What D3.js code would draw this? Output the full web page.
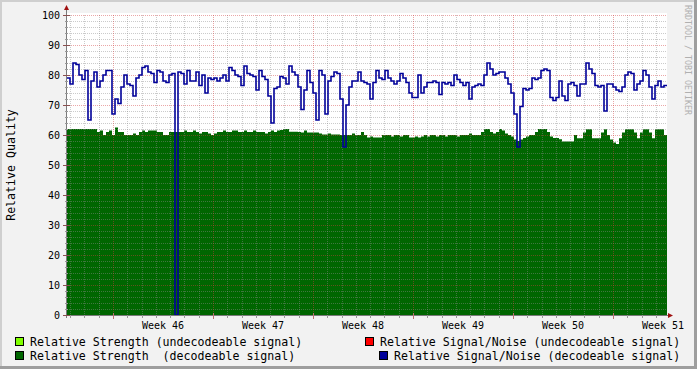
<!DOCTYPE html>
<html><head><meta charset="utf-8">
<script src="https://cdn.jsdelivr.net/npm/d3@7"></script>
<style>html,body{margin:0;padding:0;background:#f2f2f2;overflow:hidden} svg{display:block;}</style>
</head><body><svg id="c" width="697" height="369"></svg>
<script>
// ---------- data ----------
const startTime = new Date(2008, 10, 6, 18, 43, 12);   // left edge of graph
const stepSeconds = 18144;                              // sample interval
const weekLabels = ["Week 46", "Week 47", "Week 48", "Week 49", "Week 50", "Week 51"];
const yTicks = [0, 10, 20, 30, 40, 50, 60, 70, 80, 90, 100];

// Relative Signal/Noise (decodeable signal)
const snrValues = [
  79, 77, 84, 83.5, 80, 78.5, 81.5, 65, 78, 81,
  76, 78, 80, 81.5, 81.5, 67, 72, 70.5, 76, 80,
  77, 76.5, 73, 79, 80, 82.5, 83, 81, 80.5, 77.5,
  81.5, 81, 78, 77.5, 80, 80.5, 0, 81, 80.5, 77,
  81.5, 78, 78, 81, 76.5, 80, 74, 79, 78.5, 79,
  78, 79, 80, 78, 82.5, 81.5, 80, 79.5, 76.5, 83,
  80.5, 80, 79.5, 75, 81.5, 79.5, 78.5, 73, 64, 75.5,
  76, 79.5, 79, 77, 83, 81, 80, 76, 68.5, 75,
  81.5, 77.5, 74, 65, 81.5, 80, 67, 78, 79.5, 81,
  80.5, 72, 56, 70, 76, 78, 78, 81, 78, 77.5,
  77, 72, 77.5, 81.5, 79, 78.5, 81.5, 79, 78, 77,
  78, 80.5, 79, 77.5, 74, 72.5, 72.5, 80, 74, 76,
  77.5, 77.5, 78, 77.5, 73.5, 77.5, 77, 77.5, 76.5, 80,
  78.5, 77.5, 76.5, 77.5, 72, 76, 76.5, 77, 76.5, 80,
  84, 82, 80, 80.5, 81, 81, 79, 77, 74, 67,
  56, 69.5, 75.5, 75, 75.5, 79, 78.5, 79, 81.5, 82,
  81.5, 72.5, 71.5, 72.5, 78, 73, 71.5, 77, 77.5, 76.5,
  73, 77, 77, 84, 82, 80.5, 76.5, 76, 76.5, 68,
  77, 77, 76, 75, 74.5, 76, 80, 81, 80.5, 75,
  77, 78, 81.5, 80, 76, 72, 76.5, 78, 76, 76.5
];

// Relative Strength (decodeable signal)
const strengthValues = [
  62, 62, 62, 62, 62, 62, 62, 62, 62, 62,
  61, 61.5, 60, 61, 61.5, 60, 62.5, 61, 61, 60,
  60, 60, 60.5, 60, 61, 61.5, 61, 61.5, 61.5, 61.5,
  61, 61, 60, 60, 61, 61, 61, 61, 61, 61.5,
  61, 61, 61.5, 61, 60.5, 61, 61, 60.5, 60, 60.5,
  61, 61, 61.5, 61, 61, 61.5, 61.5, 61, 61, 61.5,
  61, 61, 61.5, 61, 61, 61, 60.5, 61, 61.5, 61,
  61.5, 61.7, 62, 62, 61.1, 61.1, 61.1, 61, 60.8, 61.5,
  60.8, 60.8, 60.8, 60.8, 60.5, 60.2, 60.2, 60.5, 60.2, 60.2,
  60.2, 60, 60, 60, 60, 60.5, 60, 60, 61, 60,
  59.2, 59.5, 59.2, 59.2, 59.2, 60, 60, 60, 59.5, 60,
  60, 59.5, 60, 60, 59.2, 59.2, 59.5, 59.2, 59.5, 60,
  59.5, 60, 60, 59.5, 60, 60, 59.5, 60, 60, 60,
  59.5, 60, 60, 60, 60.5, 60, 60, 60, 61, 62,
  62, 61, 60.5, 61, 62, 61.5, 60.5, 60, 59.5, 58.5,
  58, 58.5, 59, 59.5, 60, 60, 61, 62, 62, 62,
  61, 59.5, 59, 59, 58.6, 57.8, 57.8, 57.8, 57.8, 60,
  58.9, 58.9, 60.8, 61.9, 61.9, 58.9, 58.9, 58.9, 60.8, 61.9,
  60, 58.5, 57.5, 57, 58.9, 60.8, 61.9, 61.9, 61.9, 60.8,
  58.9, 60.8, 61.9, 61.9, 60.8, 58.9, 61.9, 61.9, 61.9, 60
];

const legendLabels = [
  "Relative Strength (undecodeable signal)",
  "Relative Signal/Noise (undecodeable signal)",
  "Relative Strength  (decodeable signal)",
  "Relative Signal/Noise (decodeable signal)"
];
const legendColors = ["#80ff00", "#ff0000", "#006600", "#000099"];

// ---------- drawing ----------
const W = 697, H = 369;
const L = 67, R = 667, T = 15, B = 315;
const mono = "'DejaVu Sans Mono', monospace";
const svg = d3.select("#c");

svg.append("rect").attr("width", W).attr("height", H).attr("fill", "#f2f2f2");
// frame shading
svg.append("rect").attr("x", 0).attr("y", 0).attr("width", W).attr("height", 2).attr("fill", "#cfcfcf");
svg.append("rect").attr("x", 0).attr("y", 0).attr("width", 2).attr("height", H).attr("fill", "#cfcfcf");
svg.append("rect").attr("x", 0).attr("y", H - 3).attr("width", W).attr("height", 3).attr("fill", "#9e9e9e");
svg.append("rect").attr("x", W - 3).attr("y", 0).attr("width", 3).attr("height", H).attr("fill", "#9e9e9e");

const endTime = new Date(startTime.getTime() + snrValues.length * stepSeconds * 1000);
const x = d3.scaleTime().domain([startTime, endTime]).range([L, R]);
const y = d3.scaleLinear().domain([0, 100]).range([B, T]);
const tAt = i => new Date(startTime.getTime() + i * stepSeconds * 1000);

// canvas
svg.append("rect").attr("x", L).attr("y", T - 2).attr("width", R - L).attr("height", B - T + 2).attr("fill", "#ffffff");

// strength area
const gData = strengthValues.map((v, i) => ({ t: tAt(i), v }));
gData.push({ t: endTime, v: strengthValues[strengthValues.length - 1] });
svg.append("path").datum(gData)
  .attr("d", d3.area().x(d => x(d.t)).y0(y(0)).y1(d => y(d.v)).curve(d3.curveStepAfter))
  .attr("fill", "#006600");

// grid
const grid = svg.append("g").attr("shape-rendering", "crispEdges");
const minorY = d3.range(0, 101, 2).filter(v => v % 10 !== 0);
grid.selectAll(".my").data(minorY).enter().append("line")
  .attr("x1", L).attr("x2", R).attr("y1", d => Math.round(y(d)) + 0.5).attr("y2", d => Math.round(y(d)) + 0.5)
  .attr("stroke", "rgba(140,140,140,0.45)").attr("stroke-dasharray", "1,1");
const days = d3.timeDay.range(startTime, endTime).filter(d => d.getDay() !== 1);
grid.selectAll(".mx").data(days).enter().append("line")
  .attr("y1", T).attr("y2", B).attr("x1", d => Math.round(x(d)) + 0.5).attr("x2", d => Math.round(x(d)) + 0.5)
  .attr("stroke", "rgba(140,140,140,0.45)").attr("stroke-dasharray", "1,1");
grid.selectAll(".My").data(yTicks.filter(v => v > 0)).enter().append("line")
  .attr("x1", L).attr("x2", R).attr("y1", d => Math.round(y(d)) + 0.5).attr("y2", d => Math.round(y(d)) + 0.5)
  .attr("stroke", "rgba(210,60,60,0.45)").attr("stroke-dasharray", "1,1");
const mondays = d3.timeMonday.range(startTime, endTime);
grid.selectAll(".Mx").data(mondays).enter().append("line")
  .attr("y1", T).attr("y2", B).attr("x1", d => Math.round(x(d)) + 0.5).attr("x2", d => Math.round(x(d)) + 0.5)
  .attr("stroke", "rgba(210,60,60,0.45)").attr("stroke-dasharray", "1,1");

// SNR line
const bData = snrValues.map((v, i) => ({ t: tAt(i), v }));
bData.push({ t: endTime, v: snrValues[snrValues.length - 1] });
svg.append("path").datum(bData)
  .attr("d", d3.line().x(d => x(d.t)).y(d => y(d.v)).curve(d3.curveStepAfter))
  .attr("fill", "none").attr("stroke", "#000099").attr("stroke-width", 1.6);

// axes
const ax = svg.append("g").attr("shape-rendering", "crispEdges");
ax.append("line").attr("x1", L - 0.5).attr("x2", L - 0.5).attr("y1", B + 3).attr("y2", T - 6).attr("stroke", "#7a7a7a");
ax.append("line").attr("x1", L - 3).attr("x2", R + 3).attr("y1", B + 0.5).attr("y2", B + 0.5).attr("stroke", "#7a7a7a");
svg.append("path").attr("d", `M${L - 3},${T - 5}L${L + 2},${T - 5}L${L - 0.5},${T - 10}Z`).attr("fill", "#a01010");
svg.append("path").attr("d", `M${R + 1},${B - 2}L${R + 1},${B + 3}L${R + 6},${B + 0.5}Z`).attr("fill", "#a01010");

// y ticks
ax.selectAll(".yt").data(yTicks).enter().append("line")
  .attr("x1", L - 4).attr("x2", L + 3).attr("y1", d => Math.round(y(d)) + 0.5).attr("y2", d => Math.round(y(d)) + 0.5)
  .attr("stroke", "#8a5050");
ax.selectAll(".ymt").data(minorY).enter().append("line")
  .attr("x1", L - 2).attr("x2", L + 1).attr("y1", d => Math.round(y(d)) + 0.5).attr("y2", d => Math.round(y(d)) + 0.5)
  .attr("stroke", "#999");
ax.selectAll(".xt").data(mondays).enter().append("line")
  .attr("y1", B - 2).attr("y2", B + 4).attr("x1", d => Math.round(x(d)) + 0.5).attr("x2", d => Math.round(x(d)) + 0.5)
  .attr("stroke", "#c07070");
ax.selectAll(".xmt").data(days).enter().append("line")
  .attr("y1", B).attr("y2", B + 3).attr("x1", d => Math.round(x(d)) + 0.5).attr("x2", d => Math.round(x(d)) + 0.5)
  .attr("stroke", "#999");

// y labels
svg.selectAll(".yl").data(yTicks).enter().append("text")
  .attr("x", L - 7).attr("y", d => y(d) + 4).attr("text-anchor", "end")
  .attr("font-family", mono).attr("font-size", "10px").attr("fill", "#000").text(d => d);

// x labels (centered in each week)
svg.selectAll(".xl").data(mondays).enter().append("text")
  .attr("x", d => x(d3.timeHour.offset(d, 84))).attr("y", B + 14).attr("text-anchor", "middle")
  .attr("font-family", mono).attr("font-size", "10px").attr("fill", "#000")
  .text((d, i) => weekLabels[i]);

// y title
svg.append("text").attr("transform", "translate(15,165) rotate(-90)").attr("text-anchor", "middle")
  .attr("font-family", mono).attr("font-size", "11.6px").attr("fill", "#000").text("Relative Quality");

// watermark
svg.append("text").attr("transform", "translate(685,5) rotate(90)").attr("text-anchor", "start")
  .attr("font-family", mono).attr("font-size", "8.3px").attr("fill", "#b0b0b0").text("RRDTOOL / TOBI OETIKER");

// legend
const legPos = [
  { bx: 15, tx: 30, y: 337 },
  { bx: 365, tx: 380, y: 337 },
  { bx: 15, tx: 30, y: 351 },
  { bx: 379, tx: 394, y: 351 }
];
legendLabels.forEach((lab, i) => {
  const p = legPos[i];
  svg.append("rect").attr("x", p.bx + 0.5).attr("y", p.y + 0.5).attr("width", 8).attr("height", 8)
    .attr("fill", legendColors[i]).attr("stroke", "#000").attr("stroke-width", 1);
  svg.append("text").attr("x", p.tx).attr("y", p.y + 8.5).attr("xml:space", "preserve")
    .style("white-space", "pre")
    .attr("font-family", mono).attr("font-size", "11.6px").attr("fill", "#000").text(lab);
});
</script></body></html>
